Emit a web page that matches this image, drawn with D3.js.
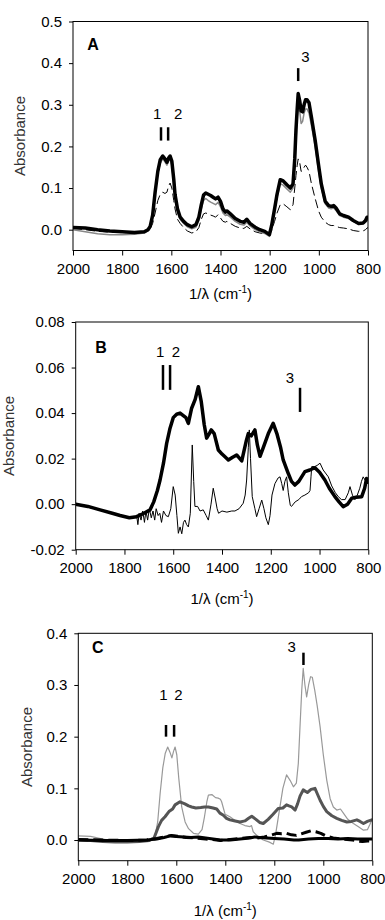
<!DOCTYPE html>
<html lang="en">
<head>
    <meta charset="UTF-8">
    <title>Absorbance spectra</title>
    <script src="https://d3js.org/d3.v7.min.js"></script>
    <style>
        body { margin: 0; background: #fff; }
        text { font-family: Arial, "Liberation Sans", sans-serif; }
    </style>
</head>
<body>
    <svg width="385" height="920"></svg>
    <script>
        // ---- data (wavenumber cm-1, absorbance) ----
        const xTicks = [2000, 1800, 1600, 1400, 1200, 1000, 800]

        // panel A : shared wavenumber grid
        const aWave = [2000,1950,1900,1850,1800,1750,1710,1695,1686,1676,1666,1655,1645,1635,1626,1618,1611,1605,1598,1590,1585,1575,1564,1550,1535,1517,1500,1488,1478,1469,1460,1450,1440,1430,1420,1410,1400,1390,1380,1374,1360,1340,1320,1305,1293,1280,1259,1240,1220,1201,1192,1180,1170,1157,1145,1130,1116,1105,1098,1093,1088,1084,1078,1072,1066,1060,1054,1048,1040,1030,1015,1001,990,974,960,950,940,930,915,900,879,860,838,820,810,804,800]
        const aThick = [0.005,0.004,0.0,-0.003,-0.005,-0.007,-0.005,0.0,0.008,0.035,0.09,0.14,0.168,0.177,0.17,0.162,0.172,0.177,0.165,0.12,0.085,0.05,0.03,0.02,0.012,0.007,0.012,0.03,0.06,0.083,0.088,0.085,0.082,0.078,0.074,0.078,0.068,0.05,0.042,0.045,0.038,0.027,0.02,0.018,0.025,0.015,0.006,0.0,-0.004,-0.012,0.01,0.05,0.085,0.12,0.117,0.108,0.1,0.11,0.17,0.24,0.29,0.327,0.31,0.285,0.283,0.3,0.312,0.312,0.305,0.27,0.215,0.155,0.11,0.068,0.058,0.056,0.058,0.052,0.038,0.034,0.03,0.022,0.015,0.016,0.022,0.03,0.03]
        const aGrey = [0.0,-0.005,-0.01,-0.012,-0.012,-0.011,-0.008,-0.003,0.004,0.03,0.085,0.135,0.16,0.17,0.163,0.155,0.165,0.17,0.155,0.11,0.078,0.045,0.025,0.015,0.007,0.002,0.006,0.022,0.05,0.07,0.075,0.07,0.066,0.063,0.06,0.066,0.055,0.04,0.034,0.036,0.03,0.02,0.013,0.011,0.018,0.009,0.0,-0.005,-0.009,-0.016,0.005,0.045,0.078,0.11,0.107,0.098,0.09,0.1,0.15,0.21,0.27,0.3,0.285,0.255,0.26,0.28,0.29,0.29,0.28,0.25,0.2,0.14,0.1,0.062,0.052,0.05,0.052,0.046,0.034,0.03,0.027,0.02,0.013,0.014,0.018,0.022,0.022]
        const aDash = [0.003,0.0,-0.004,-0.006,-0.007,-0.007,-0.005,-0.002,0.003,0.015,0.04,0.07,0.085,0.09,0.087,0.09,0.105,0.112,0.1,0.07,0.05,0.025,0.015,0.005,-0.003,-0.008,-0.005,0.005,0.025,0.038,0.04,0.038,0.035,0.033,0.03,0.036,0.028,0.02,0.018,0.02,0.015,0.008,0.004,0.003,0.008,0.002,-0.005,-0.008,-0.01,-0.012,-0.002,0.02,0.04,0.06,0.062,0.055,0.048,0.06,0.1,0.13,0.155,0.17,0.162,0.14,0.142,0.15,0.155,0.15,0.14,0.11,0.075,0.045,0.03,0.018,0.012,0.01,0.01,0.008,0.005,0.004,0.002,-0.002,-0.004,-0.003,0.0,0.004,0.005]

        // panel B
        const bThickWave = [2000,1950,1900,1850,1818,1780,1750,1720,1695,1680,1665,1654,1640,1627,1614,1600,1586,1572,1560,1548,1538,1525,1510,1497,1485,1473,1463,1452,1444,1432,1415,1400,1390,1374,1358,1340,1319,1300,1292,1280,1265,1255,1244,1230,1210,1190,1175,1160,1149,1130,1115,1101,1085,1060,1040,1019,1000,978,960,937,920,903,885,868,850,827,815,807,800]
        const bThick = [0.0,-0.001,-0.0025,-0.004,-0.005,-0.006,-0.0055,-0.004,-0.0025,0.001,0.006,0.0106,0.018,0.0267,0.033,0.038,0.0395,0.04,0.039,0.038,0.0355,0.042,0.046,0.0516,0.045,0.035,0.029,0.031,0.0326,0.031,0.0238,0.022,0.021,0.0194,0.0205,0.0216,0.019,0.028,0.031,0.03,0.0326,0.026,0.021,0.025,0.031,0.0355,0.031,0.025,0.0194,0.014,0.01,0.0084,0.01,0.0143,0.015,0.016,0.014,0.0106,0.007,0.0033,0.001,-0.0011,0.0,0.0026,0.003,0.0033,0.007,0.0113,0.009]
        const bThinWave = [2000,1950,1900,1850,1800,1770,1750,1745,1740,1732,1725,1718,1712,1705,1698,1690,1683,1676,1670,1662,1655,1648,1640,1630,1620,1610,1600,1592,1585,1579,1572,1565,1558,1552,1545,1538,1530,1522,1516,1511,1500,1490,1477,1465,1456,1445,1436,1428,1420,1414,1400,1380,1360,1347,1330,1313,1305,1299,1292,1288,1283,1276,1265,1258,1248,1237,1228,1220,1210,1203,1195,1183,1170,1162,1155,1149,1142,1135,1128,1120,1115,1100,1085,1074,1060,1045,1039,1035,1032,1020,1010,998,985,964,950,935,923,910,895,882,875,865,855,845,835,828,821,810,800]
        const bThin = [0.0,-0.001,-0.0025,-0.004,-0.0055,-0.006,-0.005,-0.009,-0.004,-0.007,-0.003,-0.008,-0.003,-0.007,-0.002,-0.006,-0.003,-0.007,-0.002,-0.005,-0.004,-0.008,-0.003,-0.005,-0.0055,-0.002,0.0077,0.004,-0.005,-0.0128,-0.01,-0.013,-0.008,-0.007,-0.009,-0.01,-0.004,0.026,0.01,-0.001,-0.001,-0.003,-0.0025,-0.005,-0.007,0.0,0.007,0.0027,-0.002,-0.004,-0.003,-0.0035,-0.003,-0.003,-0.002,0.0004,0.004,0.0106,0.025,0.0326,0.02,0.0033,-0.002,-0.0055,-0.002,0.0018,-0.002,-0.006,-0.009,-0.005,0.004,0.009,0.0115,0.012,0.009,0.006,0.01,0.012,0.005,-0.0005,-0.001,0.001,0.002,0.0033,0.004,0.005,0.006,0.012,0.0165,0.0165,0.017,0.018,0.015,0.012,0.008,0.005,0.0033,0.002,0.002,0.005,0.0077,0.004,0.002,0.004,0.007,0.01,0.012,0.01,0.009]

        // panel C
        const cGreyWave = [2000,1950,1900,1850,1800,1750,1710,1695,1686,1676,1666,1655,1645,1635,1626,1618,1611,1605,1598,1590,1578,1564,1550,1530,1510,1495,1485,1475,1469,1455,1440,1429,1420,1415,1401,1381,1360,1340,1320,1299,1293,1286,1265,1245,1220,1204,1195,1185,1177,1165,1150,1135,1122,1110,1102,1095,1088,1082,1075,1068,1060,1052,1045,1035,1025,1013,1000,986,972,959,945,930,918,900,877,855,836,820,810,802,800]
        const cGrey = [0.008,0.007,0.002,-0.002,-0.003,-0.002,-0.001,0.003,0.01,0.035,0.09,0.14,0.168,0.18,0.17,0.159,0.172,0.18,0.165,0.12,0.064,0.035,0.022,0.013,0.0116,0.02,0.045,0.075,0.087,0.088,0.082,0.081,0.079,0.074,0.05,0.045,0.038,0.032,0.028,0.026,0.028,0.016,0.006,0.0,-0.004,-0.008,0.01,0.04,0.064,0.1,0.126,0.115,0.103,0.11,0.148,0.22,0.29,0.332,0.3,0.277,0.3,0.316,0.315,0.29,0.26,0.219,0.165,0.116,0.08,0.064,0.058,0.06,0.052,0.04,0.032,0.025,0.019,0.02,0.03,0.039,0.04]
        const cDarkWave = [2000,1950,1900,1850,1800,1750,1710,1690,1673,1660,1646,1630,1615,1605,1585,1565,1550,1537,1520,1500,1485,1469,1450,1435,1422,1408,1395,1381,1360,1340,1320,1305,1292,1275,1260,1245,1225,1205,1184,1165,1150,1140,1129,1115,1105,1095,1082,1065,1050,1034,1025,1013,1000,986,965,945,925,904,885,863,850,836,820,802,800]
        const cDark = [0.0,-0.001,-0.003,-0.004,-0.004,-0.003,-0.001,0.005,0.026,0.038,0.045,0.055,0.06,0.068,0.074,0.07,0.066,0.064,0.062,0.063,0.064,0.064,0.062,0.06,0.052,0.048,0.042,0.039,0.037,0.035,0.037,0.042,0.046,0.04,0.034,0.032,0.04,0.05,0.061,0.062,0.068,0.066,0.064,0.058,0.07,0.085,0.097,0.092,0.098,0.1,0.09,0.077,0.065,0.055,0.047,0.042,0.038,0.035,0.036,0.039,0.036,0.032,0.036,0.039,0.038]
        const cBlackWave = [2000,1900,1800,1720,1680,1650,1625,1600,1570,1540,1510,1480,1450,1420,1380,1340,1300,1280,1260,1230,1200,1160,1120,1100,1060,1020,980,940,900,860,820,800]
        const cBlack = [0.0,-0.001,-0.001,0.0,0.002,0.005,0.008,0.007,0.006,0.005,0.006,0.004,0.002,0.0,0.0,0.002,0.004,0.006,0.005,0.004,0.003,0.002,0.0,0.0,0.002,0.003,0.003,0.002,0.003,0.002,0.002,0.002]
        const cDashWave = [2000,1900,1800,1720,1680,1650,1620,1590,1560,1520,1480,1450,1420,1380,1340,1300,1270,1240,1210,1190,1170,1150,1130,1110,1090,1070,1050,1030,1010,990,960,920,880,860,840,820,800]
        const cDash = [0.001,0.0,-0.001,0.0,0.003,0.006,0.009,0.007,0.005,0.004,0.002,0.001,-0.001,0.001,0.003,0.005,0.004,0.006,0.01,0.013,0.012,0.013,0.01,0.009,0.012,0.015,0.018,0.016,0.013,0.008,0.004,0.002,0.0,-0.002,-0.003,-0.002,-0.002]

        const svg = d3.select("svg")

        function zip(xs, ys) { return xs.map((x, i) => ({x: x, y: ys[i]})) }

        let clipId = 0
        // draw one framed panel
        function drawPanel(p) {
            const xScale = d3.scaleLinear().domain([2000, 800]).range([p.left, p.right])
            const yScale = d3.scaleLinear().domain(p.yDomain).range([p.bottom, p.top])
            const g = svg.append("g")

            const id = "clip" + (clipId++)
            g.append("clipPath").attr("id", id).append("rect")
                .attr("x", p.left).attr("y", p.top)
                .attr("width", p.right - p.left).attr("height", p.bottom - p.top)

            const line = d3.line().x(d => xScale(d.x)).y(d => yScale(d.y))
            const lines = g.append("g").attr("clip-path", `url(#${id})`)
            p.series.forEach(s => {
                lines.append("path")
                    .datum(zip(s.x, s.y))
                    .attr("fill", "none")
                    .attr("stroke", s.color)
                    .attr("stroke-width", s.width)
                    .attr("stroke-dasharray", s.dash || null)
                    .attr("stroke-linejoin", "round")
                    .attr("d", line)
            })

            // frame
            g.append("rect")
                .attr("x", p.left).attr("y", p.top)
                .attr("width", p.right - p.left).attr("height", p.bottom - p.top)
                .attr("fill", "none").attr("stroke", "#000").attr("stroke-width", 1)

            const xAxis = g.append("g")
                .attr("transform", `translate(0,${p.bottom})`)
                .call(d3.axisBottom(xScale).tickValues(xTicks).tickFormat(d3.format("d"))
                    .tickSize(5).tickSizeOuter(0).tickPadding(8))
            const yAxis = g.append("g")
                .attr("transform", `translate(${p.left},0)`)
                .call(d3.axisLeft(yScale).tickValues(p.yTicks).tickFormat(d3.format(p.fmt))
                    .tickSize(4).tickSizeOuter(0).tickPadding(7))
            ;[xAxis, yAxis].forEach(a => {
                a.select(".domain").remove()
                a.selectAll("text").attr("font-size", 15).attr("fill", "#000")
                    .attr("font-family", "Arial, 'Liberation Sans', sans-serif")
                a.selectAll("line").attr("stroke", "#000")
            })
            yAxis.selectAll("text").text(d => d < 0 ? "-" + d3.format(p.fmt)(-d) : d3.format(p.fmt)(d))

            // axis titles
            g.append("text")
                .attr("transform", `translate(${p.yLabelX},${(p.top + p.bottom) / 2}) rotate(-90)`)
                .attr("text-anchor", "middle").attr("font-size", 15).attr("fill", "#333")
                .text("Absorbance")
            const xt = g.append("text")
                .attr("x", (p.left + p.right) / 2).attr("y", p.xLabelY)
                .attr("text-anchor", "middle").attr("font-size", 15).attr("fill", "#000")
            xt.append("tspan").text("1/λ (cm")
            xt.append("tspan").attr("dy", -6).attr("font-size", 10).text("-1")
            xt.append("tspan").attr("dy", 6).text(")")

            // panel letter
            g.append("text")
                .attr("x", xScale(p.letterAt[0])).attr("y", yScale(p.letterAt[1]))
                .attr("text-anchor", "middle").attr("font-size", 16).attr("font-weight", "bold")
                .text(p.letter)

            // band markers 1, 2, 3
            p.bands.forEach(b => {
                g.append("line")
                    .attr("x1", xScale(b.w)).attr("x2", xScale(b.w))
                    .attr("y1", yScale(b.y0)).attr("y2", yScale(b.y1))
                    .attr("stroke", "#000").attr("stroke-width", 2.5)
            })
            p.numbers.forEach(n => {
                g.append("text")
                    .attr("x", xScale(n.w)).attr("y", yScale(n.y))
                    .attr("text-anchor", "middle").attr("font-size", 15).attr("fill", "#000")
                    .text(n.t)
            })
        }

        drawPanel({
            left: 73, right: 368, top: 21.5, bottom: 250.5,
            yDomain: [-0.05, 0.5], yTicks: [0, 0.1, 0.2, 0.3, 0.4, 0.5], fmt: ".1f",
            yLabelX: 25, xLabelY: 299,
            letter: "A", letterAt: [1919, 0.432],
            series: [
                {x: aWave, y: aDash, color: "#000", width: 1, dash: "9,4"},
                {x: aWave, y: aGrey, color: "#888", width: 1.5},
                {x: aWave, y: aThick, color: "#000", width: 3.5}
            ],
            bands: [
                {w: 1642, y0: 0.214, y1: 0.246}, {w: 1613, y0: 0.214, y1: 0.246},
                {w: 1084, y0: 0.357, y1: 0.388}
            ],
            numbers: [
                {t: "1", w: 1658, y: 0.267}, {t: "2", w: 1572, y: 0.267}, {t: "3", w: 1055, y: 0.403}
            ]
        })

        drawPanel({
            left: 75.7, right: 368.3, top: 322, bottom: 549.7,
            yDomain: [-0.02, 0.08], yTicks: [-0.02, 0, 0.02, 0.04, 0.06, 0.08], fmt: ".2f",
            yLabelX: 14, xLabelY: 604,
            letter: "B", letterAt: [1896, 0.0664],
            series: [
                {x: bThinWave, y: bThin, color: "#000", width: 1},
                {x: bThickWave, y: bThick, color: "#000", width: 3.5}
            ],
            bands: [
                {w: 1642, y0: 0.0502, y1: 0.0611}, {w: 1613, y0: 0.0502, y1: 0.0611},
                {w: 1080, y0: 0.0405, y1: 0.0511}
            ],
            numbers: [
                {t: "1", w: 1654, y: 0.0647}, {t: "2", w: 1589, y: 0.0647}, {t: "3", w: 1121, y: 0.0532}
            ]
        })

        drawPanel({
            left: 78.3, right: 372.3, top: 633.3, bottom: 860.7,
            yDomain: [-0.04, 0.4], yTicks: [0, 0.1, 0.2, 0.3, 0.4], fmt: ".1f",
            yLabelX: 32, xLabelY: 916,
            letter: "C", letterAt: [1920, 0.362],
            series: [
                {x: cGreyWave, y: cGrey, color: "#999", width: 1.2},
                {x: cDarkWave, y: cDark, color: "#555", width: 3},
                {x: cBlackWave, y: cBlack, color: "#000", width: 3},
                {x: cDashWave, y: cDash, color: "#000", width: 3, dash: "10,5"}
            ],
            bands: [
                {w: 1642, y0: 0.2, y1: 0.2226}, {w: 1609, y0: 0.2, y1: 0.2226},
                {w: 1081, y0: 0.3387, y1: 0.3625}
            ],
            numbers: [
                {t: "1", w: 1653, y: 0.271}, {t: "2", w: 1591, y: 0.271}, {t: "3", w: 1129, y: 0.364}
            ]
        })
    </script>
</body>
</html>
